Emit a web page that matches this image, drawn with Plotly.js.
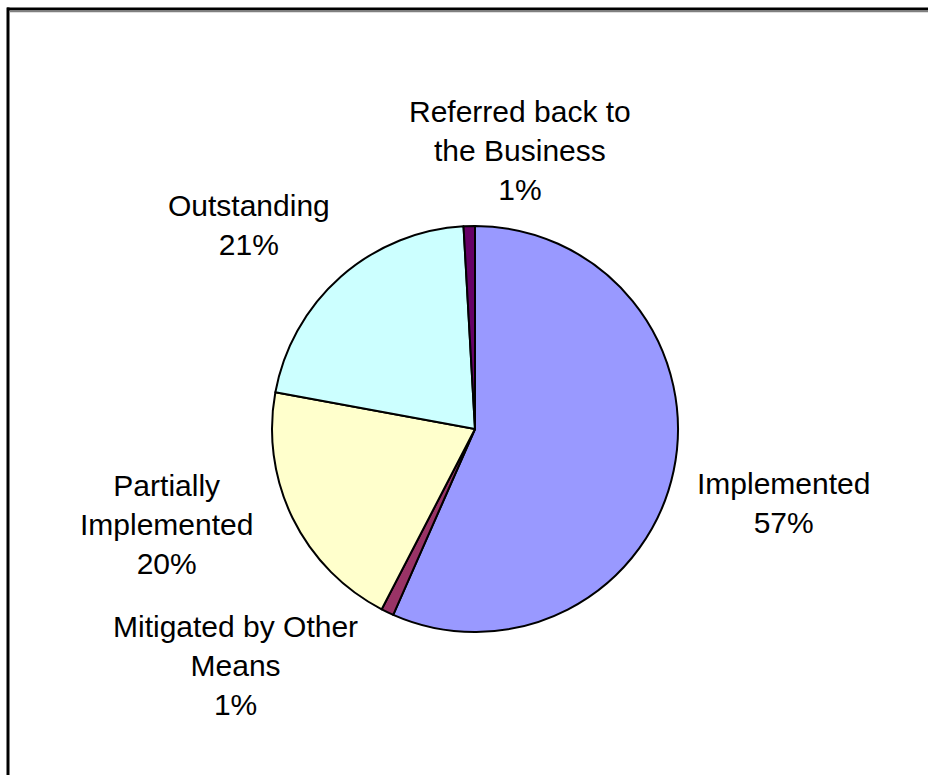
<!DOCTYPE html>
<html>
<head>
<meta charset="utf-8">
<script src="https://cdn.plot.ly/plotly-3.0.1.min.js"></script>
<style>html,body{margin:0;padding:0;background:#fff;overflow:hidden;}#chart{width:928px;height:775px;}</style>
</head>
<body>
<div id="chart"></div>
<script>
// Data
const categories = ["Implemented", "Mitigated by Other Means", "Partially Implemented", "Outstanding", "Referred back to the Business"];
const values = [56.6, 1.0, 20.3, 21.2, 0.9];
const labelLines = [
  ["Implemented"],
  ["Mitigated by Other", "Means"],
  ["Partially", "Implemented"],
  ["Outstanding"],
  ["Referred back to", "the Business"]
];

// Styles / positions (not data)
const colors = ["#9999FF", "#993366", "#FFFFCC", "#CCFFFF", "#660066"];
const labelPos = [ // pixel centers [x, y]
  [783, 503],
  [235, 665],
  [166, 524],
  [249, 225],
  [520, 150]
];
const W = 928, H = 775;
const cx = 475, cy = 429, R = 203;

const total = values.reduce((a, b) => a + b, 0);
const annotations = categories.map((c, i) => ({
  xref: 'paper', yref: 'paper',
  x: labelPos[i][0] / W, y: 1 - labelPos[i][1] / H,
  xanchor: 'center', yanchor: 'middle',
  showarrow: false, align: 'center',
  text: labelLines[i].concat([Math.round(values[i] / total * 100) + '%']).join('<br>'),
  font: {family: 'Arial, "Liberation Sans", sans-serif', size: 30, color: '#000'}
}));

const trace = {
  type: 'pie',
  labels: categories,
  values: values,
  sort: false,
  direction: 'clockwise',
  rotation: 0,
  textinfo: 'none',
  hoverinfo: 'label+percent',
  marker: {colors: colors, line: {color: '#000', width: 2}},
  domain: {x: [(cx - R) / W, (cx + R) / W], y: [1 - (cy + R) / H, 1 - (cy - R) / H]}
};

const shapes = [
  {type: 'line', xref: 'paper', yref: 'paper', x0: 7 / W, x1: 1, y0: 1 - 9 / H, y1: 1 - 9 / H, line: {color: '#000', width: 3}},
  {type: 'line', xref: 'paper', yref: 'paper', x0: 10 / W, x1: 1, y0: 1 - 11.5 / H, y1: 1 - 11.5 / H, line: {color: '#808080', width: 1.5}},
  {type: 'line', xref: 'paper', yref: 'paper', x0: 8 / W, x1: 8 / W, y0: 0, y1: 1 - 7.5 / H, line: {color: '#000', width: 3}}
];

const layout = {
  width: W, height: H,
  margin: {l: 0, r: 0, t: 0, b: 0},
  paper_bgcolor: '#fff',
  showlegend: false,
  annotations: annotations,
  shapes: shapes
};

Plotly.newPlot('chart', [trace], layout, {displayModeBar: false, staticPlot: true});
</script>
</body>
</html>
